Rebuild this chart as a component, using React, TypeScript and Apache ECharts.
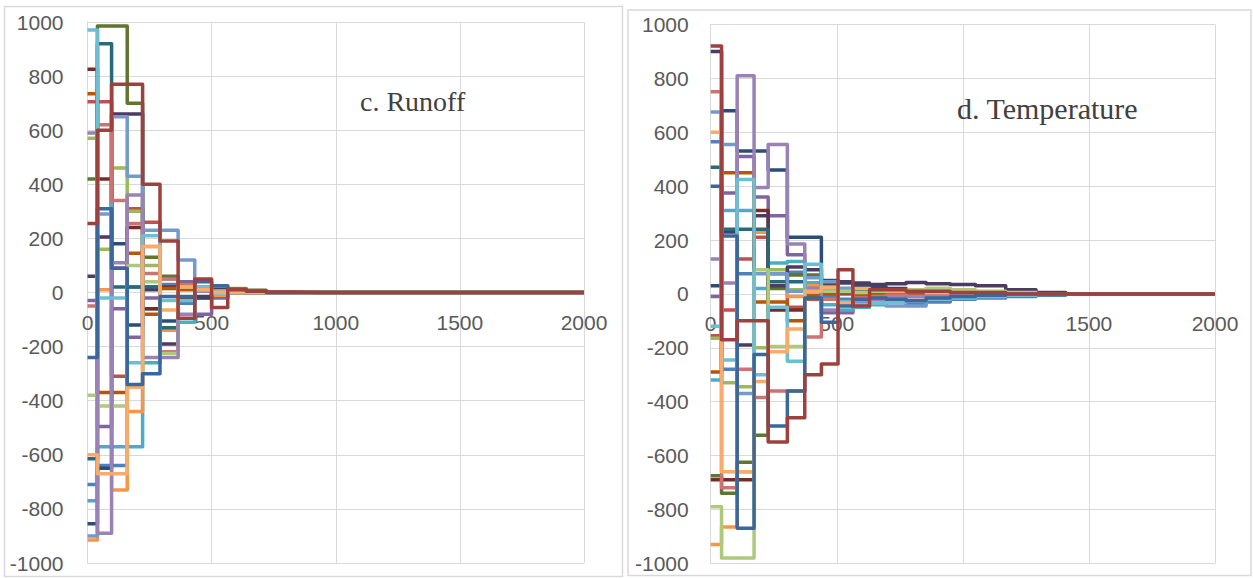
import React, { useEffect, useRef } from "react";
import * as echarts from "echarts";

// Excel-style series colours (20 series per panel)
const seriesColors = [
  "#4F81BD", "#C0504D", "#9BBB59", "#8064A2", "#4BACC6", "#F79646",
  "#2C4D75", "#772C2A", "#5F7530", "#4D3B62", "#276A7C", "#B65708",
  "#729ACA", "#CD7371", "#AFC97A", "#9983B5", "#6FBDD1", "#F9AB6B",
  "#3A679C", "#9E413E",
];

const xMax = 2000;

// c. Runoff: step start positions and held values
const runoffX = [0, 40, 97, 160, 222, 292, 365, 432, 500, 565, 640, 720, 820, 950, 1100];
const runoffSeries: number[][] = [
  [-710, -640, -640, 20, -60, 30, -40, 10, -15, 5, 5, 0, 0, 0, 0],
  [705, 705, -310, 310, 260, -220, 30, 20, -10, 10, 5, 0, 0, 0, 0],
  [570, 160, 460, 300, 100, 15, 40, 20, 10, 15, 5, 0, 0, 0, 0],
  [-30, -495, -60, -165, -20, -135, 40, -80, -20, 5, 0, 0, 0, 0, 0],
  [-770, -570, -570, -570, -260, 50, -110, -20, 20, 0, 0, 0, 0, 0, 0],
  [-915, 10, -730, -440, 170, -140, 30, 10, -10, 5, 0, 0, 0, 0, 0],
  [-855, -650, 180, -120, 20, -105, 30, -20, 5, 0, 0, 0, 0, 0, 0],
  [825, 420, 90, 240, -60, 20, -25, 10, 5, 0, 0, 0, 0, 0, 0],
  [420, 985, 985, 700, 130, 60, 15, 10, 5, 12, 8, 0, 0, 0, 0],
  [60, 205, 660, 660, 10, -190, 20, -15, 10, 5, 0, 0, 0, 0, 0],
  [-615, 920, 20, 20, 20, -130, 30, 10, 5, 0, 0, 0, 0, 0, 0],
  [735, -370, -370, 145, -80, 15, 10, 5, 0, 0, 0, 0, 0, 0, 0],
  [-900, 290, 650, 430, 230, 230, 120, 15, 5, 10, 0, 0, 0, 0, 0],
  [-50, 620, 340, 255, 70, 50, 30, 10, 5, 0, 0, 0, 0, 0, 0],
  [-380, -420, -420, 100, 40, -225, 20, 10, 5, 0, 0, 0, 0, 0, 0],
  [590, -890, 110, 360, -240, -240, -80, 5, 0, 0, 0, 0, 0, 0, 0],
  [970, -20, -20, -260, 210, -30, -30, 20, -5, 0, 0, 0, 0, 0, 0],
  [-600, -670, -670, -350, 170, -65, 20, 10, 0, 0, 0, 0, 0, 0, 0],
  [-240, 310, 90, -340, -300, -15, -15, 40, 25, 10, 5, 0, 0, 0, 0],
  [255, 600, 770, 770, 400, 190, -95, 50, -55, 12, 5, 2, 0, 0, 0],
];

// d. Temperature: step start positions and held values
const tempX = [0, 43, 105, 172, 228, 304, 373, 439, 505, 564, 630, 696, 775, 854, 950, 1050, 1170, 1290, 1408, 1500];
const tempSeries: number[][] = [
  [565, -280, 75, 230, 75, 80, 40, -10, -20, -30, -35, -25, -40, -30, -20, -15, -10, -5, 0, 0],
  [-155, -60, 130, 210, 30, -50, -20, 10, 0, -10, -5, 5, 0, -5, 0, 0, 0, 0, 0, 0],
  [-165, -330, -345, -200, 90, 15, 20, 10, 15, 10, 5, 10, 15, 20, 10, 5, 0, 0, 0, 0],
  [-10, 375, 510, 360, 290, 145, 10, -70, -70, -30, -20, -15, -10, -10, -5, 0, 0, 0, 0, 0],
  [-320, 310, 310, 20, 115, 120, 40, -40, -60, -50, -40, -30, -25, -15, -10, -5, 0, 0, 0, 0],
  [-930, -865, -660, 230, 30, -10, 30, 20, 10, 15, 20, 15, 10, 10, 5, 5, 0, 0, 0, 0],
  [30, 680, 530, 530, 460, 210, 210, 50, 40, 30, 25, 20, 15, 10, 5, 5, 0, 0, 0, 0],
  [-690, -690, -690, 310, -60, -60, 20, 10, 5, 0, 5, 10, 5, 5, 0, 0, 0, 0, 0, 0],
  [-675, -740, -625, -525, 20, 70, 70, 30, 20, 15, 10, 5, 10, 5, 0, 0, 0, 0, 0, 0],
  [900, 230, -190, 290, 30, 100, 90, 40, 45, 40, 35, 38, 42, 38, 35, 30, 15, 5, 0, 0],
  [470, 240, 240, 240, 45, 45, 10, 20, 5, 10, 5, 0, 0, 0, 0, 0, 0, 0, 0, 0],
  [-290, 450, 450, -30, -30, -100, -5, 0, 5, -5, 0, 0, 0, 0, 0, 0, 0, 0, 0, 0],
  [675, 555, -370, 75, 75, 10, 60, 45, 20, -30, -35, -45, -45, -20, -15, -10, -5, 0, 0, 0],
  [750, -720, -280, -385, -360, -360, -160, -20, -30, -15, -10, -5, -10, -5, 0, 0, 0, 0, 0, 0],
  [-790, -980, -980, 90, -195, -195, 20, 10, 10, 5, 10, 12, 15, 20, 15, 10, 5, 0, 0, 0],
  [130, 40, 810, 395, 555, 185, 20, -60, -30, -20, -20, -15, -10, -10, -5, 0, 0, 0, 0, 0],
  [-120, -245, 425, -300, -50, -250, 110, 20, -30, -40, -35, -30, -25, -20, -15, -10, -5, 0, 0, 0],
  [600, -660, -660, -325, -215, -130, 10, 25, -35, 20, 15, 10, 10, 5, 5, 0, 0, 0, 0, 0],
  [400, 215, -870, -225, -490, -360, -15, -105, -45, -20, -15, -20, -25, -15, -10, -5, 0, 0, 0, 0],
  [920, -170, -100, -100, -550, -460, -300, -260, 90, -45, 15, 15, 10, 10, 5, 5, 0, 0, 0, 0],
];

const titles = ["c. Runoff", "d. Temperature"];

const gridColor = "#D9D9D9";
const labelFont = "'Liberation Sans', Arial, sans-serif";

function buildSeries(xs: number[], rows: number[][], idx: number) {
  return rows.map((vals, i) => ({
    type: "line" as const,
    xAxisIndex: idx,
    yAxisIndex: idx,
    step: "end" as const,
    showSymbol: false,
    symbol: "none",
    silent: true,
    data: [...xs.map((x, k) => [x, vals[k]]), [xMax, vals[vals.length - 1]]],
    lineStyle: { color: seriesColors[i % seriesColors.length], width: 3.5, join: "round" as const },
    itemStyle: { color: seriesColors[i % seriesColors.length] },
  }));
}

function xAxisCfg(gridIndex: number, offset: number) {
  return {
    gridIndex,
    type: "value" as const,
    position: "bottom" as const,
    offset,
    min: 0,
    max: xMax,
    interval: 500,
    axisLine: { show: true, onZero: false, lineStyle: { color: gridColor, width: 1 } },
    axisTick: { show: false },
    splitLine: { show: true, lineStyle: { color: gridColor, width: 1 } },
    axisLabel: {
      color: "#595959",
      fontSize: 21,
      fontFamily: labelFont,
      margin: 19,
      formatter: (v: number) => String(v),
    },
  };
}

function yAxisCfg(gridIndex: number, margin: number) {
  return {
    gridIndex,
    type: "value" as const,
    min: -1000,
    max: 1000,
    interval: 200,
    axisLine: { show: true, onZero: false, lineStyle: { color: gridColor, width: 1 } },
    axisTick: { show: false },
    splitLine: { show: true, lineStyle: { color: gridColor, width: 1 } },
    axisLabel: {
      color: "#595959",
      fontSize: 21,
      fontFamily: labelFont,
      margin,
      formatter: (v: number) => String(v),
    },
  };
}

export default function App() {
  const ref = useRef<HTMLDivElement>(null);
  useEffect(() => {
    if (!ref.current) return;
    const chart = echarts.init(ref.current, undefined, { renderer: "svg" });
    const titleFont = "'Liberation Serif', 'Times New Roman', serif";
    chart.setOption({
      animation: false,
      backgroundColor: "#ffffff",
      grid: [
        { left: 87.5, top: 22, width: 496.5, height: 541 },
        { left: 710.7, top: 24.5, width: 504.3, height: 538.8 },
      ],
      xAxis: [xAxisCfg(0, -270.5), xAxisCfg(1, -269.4)],
      yAxis: [yAxisCfg(0, 24), yAxisCfg(1, 22)],
      series: [...buildSeries(runoffX, runoffSeries, 0), ...buildSeries(tempX, tempSeries, 1)],
      graphic: [
        {
          type: "rect",
          silent: true,
          shape: { x: 4.5, y: 6.5, width: 618, height: 570 },
          style: { fill: "none", stroke: gridColor, lineWidth: 1.5 },
        },
        {
          type: "rect",
          silent: true,
          shape: { x: 628, y: 10, width: 623, height: 565.5 },
          style: { fill: "none", stroke: gridColor, lineWidth: 1.5 },
        },
        {
          type: "text",
          silent: true,
          x: 360,
          y: 101,
          z: 100,
          style: { text: titles[0], fontSize: 28, fontFamily: titleFont, fill: "#404040", verticalAlign: "middle" },
        },
        {
          type: "text",
          silent: true,
          x: 957,
          y: 108,
          z: 100,
          style: { text: titles[1], fontSize: 30, fontFamily: titleFont, fill: "#404040", verticalAlign: "middle" },
        },
      ],
    });
    return () => chart.dispose();
  }, []);
  return (
    <div
      ref={ref}
      style={{ position: "absolute", left: 0, top: 0, width: 1253, height: 578, background: "#fff" }}
    />
  );
}
